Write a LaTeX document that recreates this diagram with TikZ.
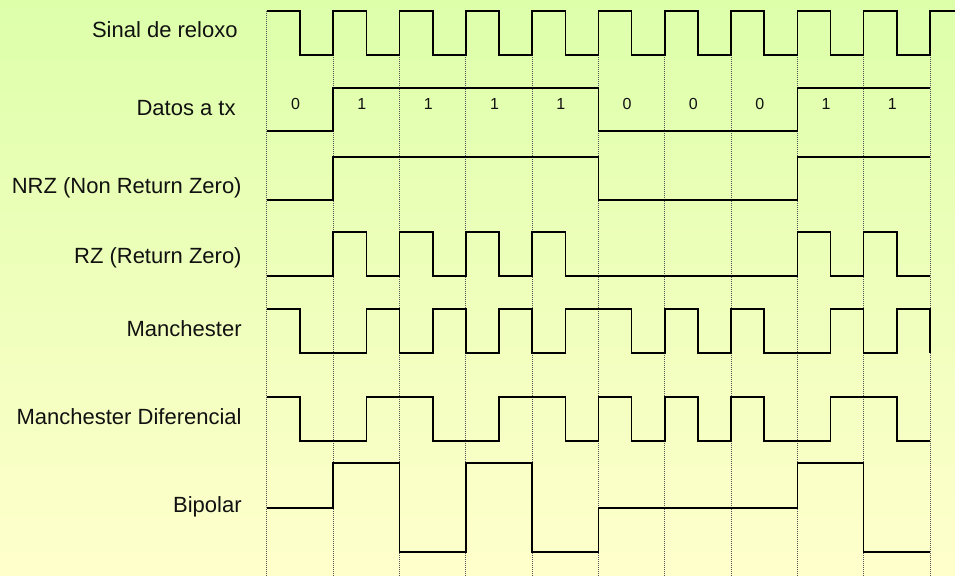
\documentclass[tikz,border=0pt]{standalone}
\usepackage{fontspec}
\setmainfont{Liberation Sans}
\usepackage{xcolor}
\usepackage{tikz}

\definecolor{bgtop}{RGB}{221,255,170}
\definecolor{bgbottom}{RGB}{255,255,204}
\definecolor{gridgray}{RGB}{85,85,85}
\definecolor{ink}{RGB}{17,17,17}

\begin{document}
\begin{tikzpicture}[x=16.575pt, y=-0.5pt] % x: half a bit, y: one pixel downwards
        % Styles
        \tikzstyle{signame} = [anchor=base east, inner sep=0pt, text=ink, font=\fontsize{11}{13}\selectfont]
        \tikzstyle{bitval} = [anchor=base, inner sep=0pt, text=ink, font=\fontsize{8}{9}\selectfont]
        \tikzstyle{wave} = [line width=0.8pt, line join=miter]
        \tikzstyle{gridline} = [line width=0.5pt, gridgray, dash pattern=on 0.5pt off 0.5pt]

        % Background
        \shade[top color=bgtop, bottom color=bgbottom] (-8.0543,0) rectangle (20.7541,576);
        \useasboundingbox (-8.0543,0) rectangle (20.7541,576);

        % Bit boundaries
        \foreach \i in {0,2,...,20}
            \draw[gridline] (\i,11) -- (\i,576);

        % Signal names
        \node (reloxo) [signame] at (-0.875,38) {Sinal de reloxo};
        \node (datos) [signame] at (-0.935,115.5) {Datos a tx};
        \node (nrz) [signame] at (-0.754,194) {NRZ (Non Return Zero)};
        \node (rz) [signame] at (-0.754,264) {RZ (Return Zero)};
        \node (manch) [signame] at (-0.754,336.5) {Manchester};
        \node (mandif) [signame] at (-0.754,425) {Manchester Diferencial};
        \node (bipolar) [signame] at (-0.754,512.5) {Bipolar};

        % Bits to send
        \foreach \b [count=\k from 0] in {0,1,1,1,1,0,0,0,1,1}
            \node (bit\k) [bitval] at ({2*\k+0.864},110) {\b};

        % Waveforms
        \draw[wave] (0,11) \foreach \i in {0,...,9} { -| ({2*\i+1},55) -| ({2*\i+2},11) } -- (20.7541,11);
        \draw[wave] (0,131) -| (2,88) -| (10,131) -| (16,88) -- (20,88);
        \draw[wave] (0,200) -| (2,157) -| (10,200) -| (16,157) -- (20,157);
        \draw[wave] (0,276) -| (2,232) -| (3,276) -| (4,232) -| (5,276) -| (6,232) -| (7,276) -| (8,232) -| (9,276) -| (16,232) -| (17,276) -| (18,232) -| (19,276) -- (20,276);
        \draw[wave] (0,309) -| (1,353) -| (3,309) -| (4,353) -| (5,309) -| (6,353) -| (7,309) -| (8,353) -| (9,309) -| (11,353) -| (12,309) -| (13,353) -| (14,309) -| (15,353) -| (17,309) -| (18,353) -| (19,309) -| (20,353);
        \draw[wave] (0,397) -| (1,441) -| (3,397) -| (5,441) -| (7,397) -| (9,441) -| (10,397) -| (11,441) -| (12,397) -| (13,441) -| (14,397) -| (15,441) -| (17,397) -| (19,441) -- (20,441);
        \draw[wave] (0,508) -| (2,463) -| (4,552) -| (6,463) -| (8,552) -| (10,508) -| (16,463) -| (18,552) -- (20,552);
\end{tikzpicture}
\end{document}
